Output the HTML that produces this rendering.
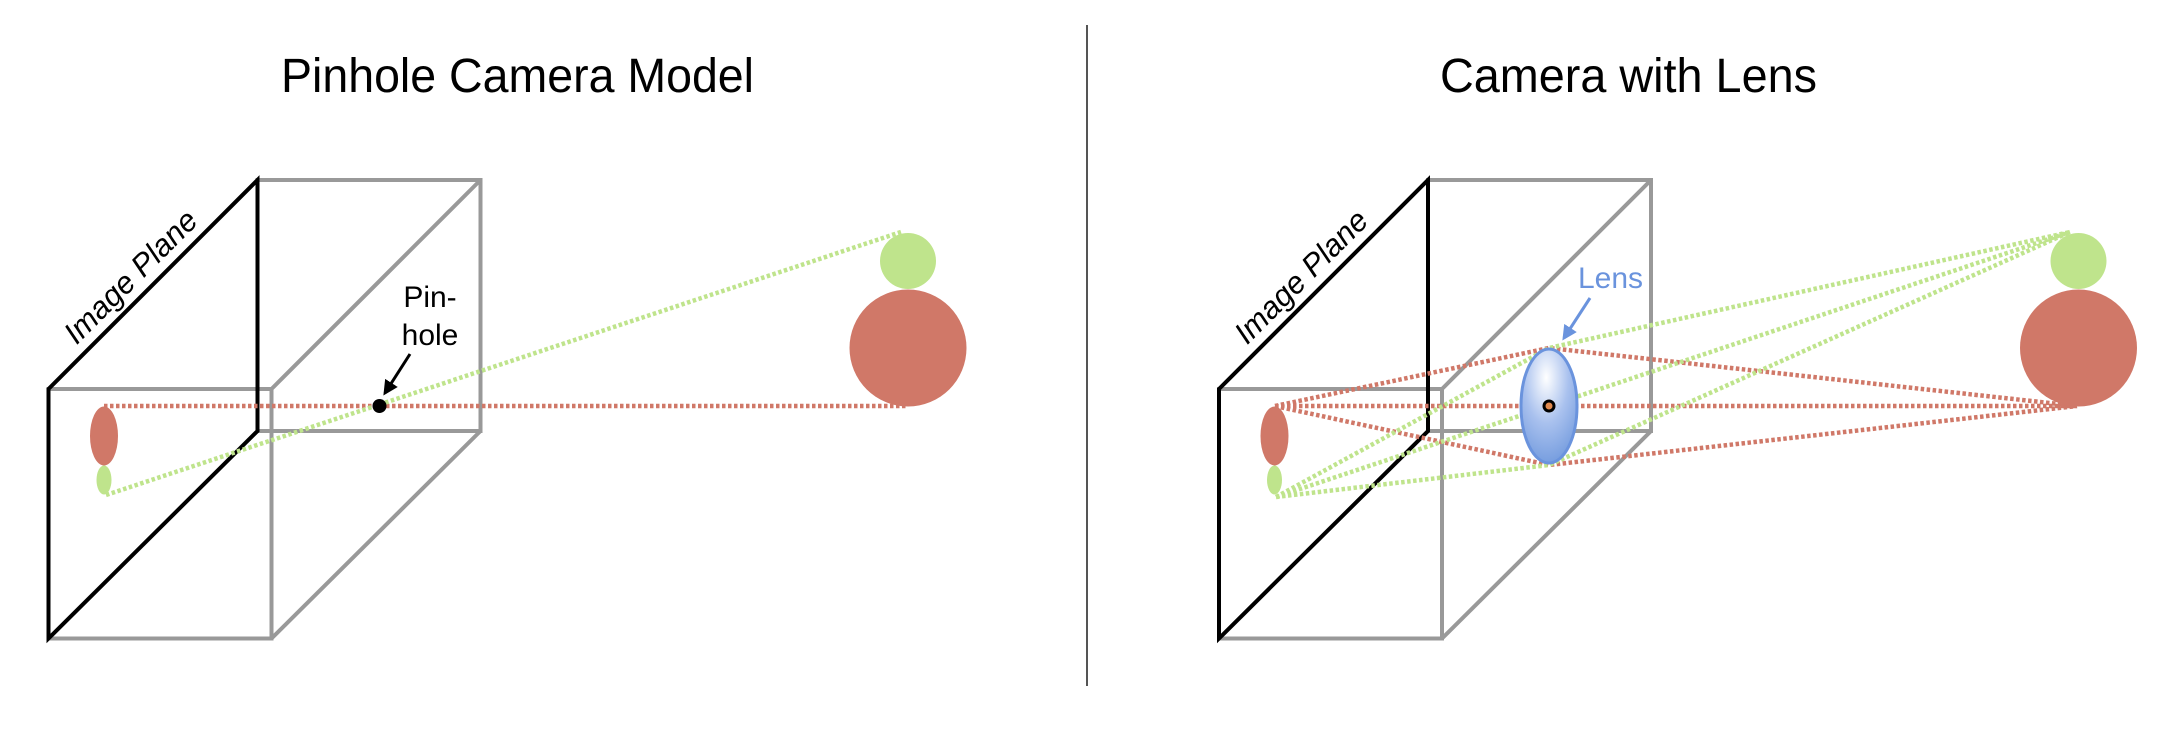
<!DOCTYPE html>
<html><head><meta charset="utf-8"><style>
html,body{margin:0;padding:0;background:#fff;}
svg{display:block;}
text{font-family:"Liberation Sans",sans-serif;}
</style></head><body>
<svg width="2172" height="732" viewBox="0 0 2172 732" xmlns="http://www.w3.org/2000/svg">
<defs>
<radialGradient id="lg" cx="0.45" cy="0.25" r="0.8">
<stop offset="0" stop-color="#ffffff"/>
<stop offset="0.5" stop-color="#a9c1ee"/>
<stop offset="1" stop-color="#7099dd"/>
</radialGradient>
<marker id="ab" viewBox="0 0 10 10" refX="8" refY="5" markerWidth="5" markerHeight="5" orient="auto"><path d="M0,0 L10,5 L0,10 z" fill="#000"/></marker>
<marker id="au" viewBox="0 0 10 10" refX="8" refY="5" markerWidth="5" markerHeight="5" orient="auto"><path d="M0,0 L10,5 L0,10 z" fill="#6a93dd"/></marker>
</defs>

<text x="281" y="92" font-size="48" textLength="473" lengthAdjust="spacingAndGlyphs">Pinhole Camera Model</text>
<text x="1440" y="92" font-size="48" textLength="377" lengthAdjust="spacingAndGlyphs">Camera with Lens</text>

<line x1="1087" y1="25" x2="1087" y2="686" stroke="#555" stroke-width="2"/>

<g id="box">
<g stroke="#999" stroke-width="4" fill="none">
<rect x="48.5" y="389" width="223" height="249.5"/>
<rect x="257.5" y="180" width="223" height="251"/>
<line x1="271.5" y1="389" x2="480.5" y2="180"/>
<line x1="271.5" y1="638.5" x2="480.5" y2="431"/>
</g>
<path d="M48.5,389 L257.5,180 L257.5,431 L48.5,638.5 Z" stroke="#000" stroke-width="4" fill="none" stroke-linejoin="miter"/>
<text transform="translate(138,284) rotate(-45)" font-size="31" text-anchor="middle" font-style="italic">Image Plane</text>
<ellipse cx="104" cy="436" rx="14" ry="29.5" fill="#d07868"/>
<ellipse cx="104" cy="480" rx="7.5" ry="14.5" fill="#bfe48c"/>
<circle cx="908" cy="348" r="58.5" fill="#d07868"/>
<circle cx="908" cy="261" r="28" fill="#bfe48c"/>
</g>

<g stroke-width="4.5" stroke-dasharray="3.5 2.5" fill="none">
<line x1="104" y1="406" x2="908" y2="406" stroke="#d07868"/>
<line x1="106" y1="495" x2="901" y2="232" stroke="#bfe48c"/>
</g>
<circle cx="379.5" cy="406" r="7" fill="#000"/>
<text x="430" y="307" font-size="30" text-anchor="middle">Pin-</text>
<text x="430" y="345" font-size="30" text-anchor="middle">hole</text>
<line x1="410" y1="354" x2="385" y2="393" stroke="#000" stroke-width="3" marker-end="url(#ab)"/>

<use href="#box" transform="translate(1170.5,0)"/>

<g stroke-width="4.5" stroke-dasharray="3.5 2.5" fill="none" stroke="#d07868">
<path d="M1275,406 L1549,348 L2077,406 M1275,406 L2077,406 M1275,406 L1549,465 L2077,406"/>
</g>
<g stroke-width="4.5" stroke-dasharray="3.5 2.5" fill="none" stroke="#bfe48c">
<path d="M1276,497 L1549,348 L2070,232 M1276,497 L1549,406 L2070,232 M1276,497 L1549,465 L2070,232"/>
</g>
<ellipse cx="1549" cy="406" rx="28" ry="57" fill="url(#lg)" stroke="#6a93dd" stroke-width="3"/>
<circle cx="1549" cy="406" r="5" fill="#e08a50" stroke="#000" stroke-width="3"/>
<text x="1578" y="288" font-size="30" fill="#6a93dd">Lens</text>
<line x1="1590" y1="298" x2="1564" y2="338" stroke="#6a93dd" stroke-width="3" marker-end="url(#au)"/>
</svg>
</body></html>
